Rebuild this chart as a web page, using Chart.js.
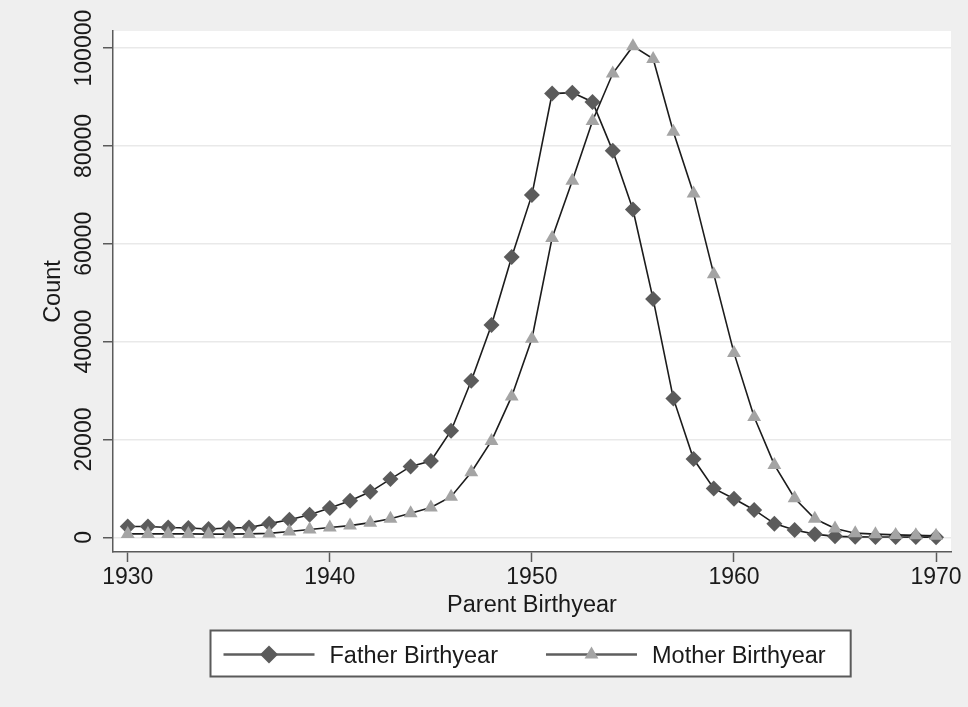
<!DOCTYPE html>
<html>
<head>
<meta charset="utf-8">
<style>
  html, body { margin: 0; padding: 0; background: #efefef; }
  #wrap { width: 968px; height: 707px; position: relative; }
  canvas { display: block; }
</style>
<script src="https://cdn.jsdelivr.net/npm/chart.js@4.4.1/dist/chart.umd.min.js"></script>
</head>
<body>
<div id="wrap"><canvas id="c" width="968" height="707"></canvas></div>
<script>
// ---------------- data ----------------
const years = [1930,1931,1932,1933,1934,1935,1936,1937,1938,1939,
               1940,1941,1942,1943,1944,1945,1946,1947,1948,1949,
               1950,1951,1952,1953,1954,1955,1956,1957,1958,1959,
               1960,1961,1962,1963,1964,1965,1966,1967,1968,1969,1970];
const fatherCounts = [2200,2200,2000,1900,1700,1900,2000,2800,3600,4600,
                      6000,7500,9300,11900,14500,15600,21800,32000,43400,57300,
                      70000,90700,90900,89000,79000,67000,48700,28400,16000,10000,
                      7900,5600,2800,1500,650,200,100,80,60,50,40];
const motherCounts = [700,700,700,700,650,650,700,800,1200,1600,
                      2000,2400,3000,3800,4900,6100,8300,13300,19700,28800,
                      40600,61200,72900,85100,94800,100400,97800,82900,70300,53800,
                      37700,24600,14800,8000,3800,1800,850,650,500,400,300];
const seriesLabels = ['Father Birthyear', 'Mother Birthyear'];
const xTickValues = [1930, 1940, 1950, 1960, 1970];
const yTickValues = [0, 20000, 40000, 60000, 80000, 100000];
const xAxisTitle = 'Parent Birthyear';
const yAxisTitle = 'Count';

// ---------------- styling ----------------
const FONT = "'Liberation Sans', Arial, Helvetica, sans-serif";
Chart.defaults.font.family = FONT;
Chart.defaults.color = '#1a1a1a';

const AXIS_COLOR = '#5a5a5a';
const TEXT_COLOR = '#1a1a1a';

const bgPlugin = {
  id: 'bgPlugin',
  beforeDraw(chart) {
    const { ctx, chartArea: a } = chart;
    ctx.save();
    ctx.fillStyle = '#efefef';
    ctx.fillRect(0, 0, chart.width, chart.height);
    ctx.fillStyle = '#ffffff';
    ctx.fillRect(a.left, a.top, a.right - a.left, a.bottom - a.top);
    ctx.restore();
  }
};

function drawMarker(ctx, style, x, y, r) {
  ctx.beginPath();
  if (style === 'rectRot') {
    ctx.moveTo(x - r, y);
    ctx.lineTo(x, y - r);
    ctx.lineTo(x + r, y);
    ctx.lineTo(x, y + r);
  } else {
    for (let k = 0; k < 3; k++) {
      const ang = k * 2 * Math.PI / 3;
      const px = x + Math.sin(ang) * r, py = y - Math.cos(ang) * r;
      if (k === 0) ctx.moveTo(px, py); else ctx.lineTo(px, py);
    }
  }
  ctx.closePath();
  ctx.fill();
}

const boxLegend = {
  id: 'boxLegend',
  afterDraw(chart) {
    const { ctx, chartArea: a } = chart;
    const fontStr = '23.5px ' + FONT;
    ctx.save();
    ctx.font = fontStr;
    const items = chart.data.datasets.map(ds => ({ ds, w: ctx.measureText(ds.label).width }));
    const symW = 91, gapText = 15, gapItem = 48, padL = 13, padR = 25, boxH = 46;
    const contentW = items.reduce((s, it) => s + symW + gapText + it.w, 0) + gapItem * (items.length - 1);
    const boxW = padL + contentW + padR;
    const cx = (a.left + a.right) / 2 - 1.5;
    const boxX = Math.round(cx - boxW / 2) + 0.5;
    const boxY = a.bottom + 78.5;
    ctx.fillStyle = '#ffffff';
    ctx.fillRect(boxX, boxY, boxW, boxH);
    ctx.strokeStyle = AXIS_COLOR;
    ctx.lineWidth = 2;
    ctx.strokeRect(boxX, boxY, boxW, boxH);

    let x = boxX + padL;
    const symY = boxY + 24;
    const textY = boxY + 26;
    items.forEach(it => {
      const ds = it.ds;
      ctx.strokeStyle = '#5e5e5e';
      ctx.lineWidth = 2.5;
      ctx.beginPath();
      ctx.moveTo(x, symY);
      ctx.lineTo(x + symW, symY);
      ctx.stroke();
      ctx.fillStyle = ds.pointBackgroundColor;
      drawMarker(ctx, ds.pointStyle, x + symW / 2, symY, ds.pointStyle === 'rectRot' ? 9 : 8);
      ctx.fillStyle = TEXT_COLOR;
      ctx.font = fontStr;
      ctx.textAlign = 'left';
      ctx.textBaseline = 'middle';
      ctx.fillText(ds.label, x + symW + gapText, textY);
      x += symW + gapText + it.w + gapItem;
    });
    ctx.restore();
  }
};

new Chart(document.getElementById('c'), {
  type: 'line',
  data: {
    datasets: [
      {
        label: seriesLabels[0],
        data: years.map((yr, i) => ({ x: yr, y: fatherCounts[i] })),
        borderColor: '#1c1c1c',
        borderWidth: 1.6,
        tension: 0,
        pointStyle: 'rectRot',
        pointRadius: 8,
        pointBackgroundColor: '#5b5b5b',
        pointBorderColor: '#5b5b5b',
        pointBorderWidth: 0,
        order: 1,
        clip: false
      },
      {
        label: seriesLabels[1],
        data: years.map((yr, i) => ({ x: yr, y: motherCounts[i] })),
        borderColor: '#1c1c1c',
        borderWidth: 1.6,
        tension: 0,
        pointStyle: 'triangle',
        pointRadius: 8,
        pointBackgroundColor: '#a4a4a4',
        pointBorderColor: '#a4a4a4',
        pointBorderWidth: 0,
        order: 0,
        clip: false
      }
    ]
  },
  options: {
    responsive: false,
    devicePixelRatio: 1,
    animation: false,
    events: [],
    layout: { padding: { top: 31, right: 17, bottom: 83, left: 0 } },
    plugins: {
      legend: { display: false },
      tooltip: { enabled: false }
    },
    scales: {
      x: {
        type: 'linear',
        min: 1929.27,
        max: 1970.74,
        afterBuildTicks: s => { s.ticks = xTickValues.map(v => ({ value: v })); },
        afterFit: s => { s.height = 72; },
        grid: { display: true, drawOnChartArea: false, drawTicks: true, tickLength: 10, tickWidth: 1.5, tickColor: AXIS_COLOR },
        border: { display: true, color: AXIS_COLOR, width: 1.5 },
        ticks: { font: { size: 23 }, color: TEXT_COLOR, padding: 2, maxRotation: 0, autoSkip: false, callback: v => String(v) },
        title: { display: true, text: xAxisTitle, font: { size: 23.5 }, color: TEXT_COLOR, padding: { top: 0, bottom: 4 } }
      },
      y: {
        type: 'linear',
        min: -3000,
        max: 103500,
        afterBuildTicks: s => { s.ticks = yTickValues.map(v => ({ value: v })); },
        afterFit: s => { s.width = 113; },
        grid: { display: true, color: '#e9e9e9', lineWidth: 1.5, drawTicks: true, tickLength: 10, tickWidth: 1.5, tickColor: AXIS_COLOR },
        border: { display: true, color: AXIS_COLOR, width: 1.5 },
        ticks: { font: { size: 23 }, color: TEXT_COLOR, minRotation: 90, maxRotation: 90, crossAlign: 'center', padding: -20, autoSkip: false, callback: v => String(v) },
        title: { display: true, text: yAxisTitle, font: { size: 23.5 }, color: TEXT_COLOR, padding: { top: 39, bottom: 0 } }
      }
    }
  },
  plugins: [bgPlugin, boxLegend]
});
</script>
</body>
</html>
